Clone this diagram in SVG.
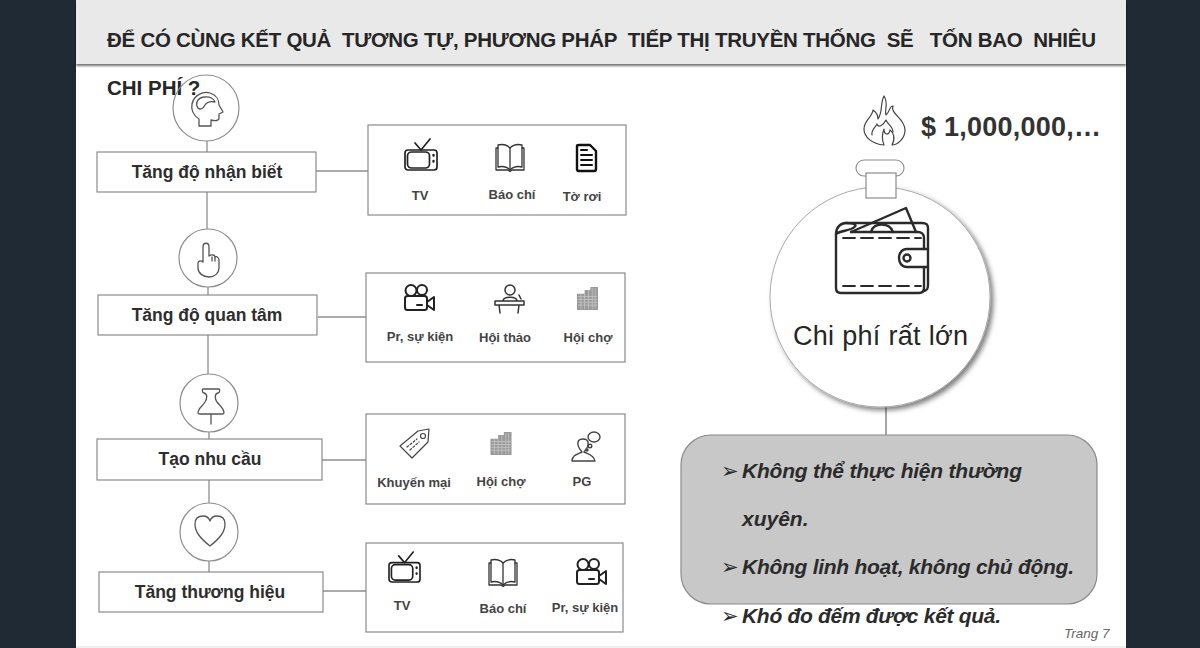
<svg xmlns="http://www.w3.org/2000/svg" width="1200" height="648" viewBox="0 0 1200 648">
<style>
text{font-family:"Liberation Sans",Arial,sans-serif;fill:#262626}
.title{font-size:20.5px;font-weight:700;white-space:pre}
.lbl{font-size:17.5px;font-weight:700;text-anchor:middle;fill:#2e2e2e}
.sm{font-size:13px;font-weight:700;text-anchor:middle;fill:#444}
.blt{font-size:21px;font-weight:700;font-style:italic;fill:#2b2b2b}
.arr{font-family:"DejaVu Sans",sans-serif;font-size:21px;font-weight:400;font-style:normal;fill:#2b2b2b}
.box{fill:#fff;stroke:#808080;stroke-width:1.1}
.ring{fill:none;stroke:#8e8e8e;stroke-width:1.2}
.con{fill:none;stroke:#8e8e8e;stroke-width:1.3}
.ic{fill:none;stroke:#222;stroke-width:1.7;stroke-linejoin:round;stroke-linecap:round}
.ir{fill:none;stroke:#555;stroke-width:1.3;stroke-linejoin:round;stroke-linecap:round}
.ig{fill:none;stroke:#444;stroke-width:1.4;stroke-linejoin:round;stroke-linecap:round}
</style>
<defs>
<filter id="hs" x="-2%" y="-20%" width="104%" height="150%"><feDropShadow dx="0" dy="2" stdDeviation="1.2" flood-color="#000" flood-opacity=".55"/></filter>
<filter id="cs" x="-10%" y="-10%" width="125%" height="125%"><feDropShadow dx="3" dy="3" stdDeviation="2.5" flood-color="#000" flood-opacity=".5"/></filter>
<symbol id="tv" viewBox="0 0 34 32" overflow="visible"><g class="ic"><rect x="1" y="11" width="32" height="20" rx="3"/><rect x="3.5" y="13" width="22" height="16" rx="4"/><path d="M11 4l6 7 9-11"/><path d="M29.5 16v.5M29.5 22v.5" stroke-width="2.4"/></g></symbol>
<symbol id="book" viewBox="0 0 30 29" overflow="visible"><g class="ic" style="stroke-width:1.3;stroke:#333"><path d="M15 5C12 2 7 1 3 2V24C7 23 12 24 15 27C18 24 23 23 27 24V2C23 1 18 2 15 5Z"/><path d="M15 5V27"/><path d="M3 5H1V27H13L15 28.500 17 27H29V5H27"/></g></symbol>
<symbol id="cam" viewBox="0 0 31 27" overflow="visible"><g class="ic" style="stroke-width:2"><circle cx="7" cy="6.500" r="5.500"/><circle cx="18" cy="6" r="5"/><rect x="1" y="12" width="22" height="14" rx="2.500"/><path d="M23 18l7-5v13l-7-5z"/><path d="M13 21h5"/></g></symbol>
<symbol id="bld" viewBox="0 0 22 24" overflow="visible"><path d="M0 7H8V3H14V0H22V24H0Z" fill="#9a9a9a"/><path d="M1 10H21M1 13H21M1 16H21M1 19H21M4 7V23M8 7V23M12 3V23M16 1V23M19 1V23" stroke="#c8c8c8" stroke-width=".8" fill="none"/></symbol>
</defs>
<rect width="1200" height="648" fill="#1f2a35"/>
<rect x="76" width="1050" height="648" fill="#fff"/>
<rect x="76" y="646" width="1050" height="2" fill="#efefef"/>
<rect id="header" x="76" width="1050" height="64" fill="#e9e9e9" filter="url(#hs)"/>
<text class="title" x="107" y="47" textLength="989" lengthAdjust="spacing">ĐỂ CÓ CÙNG KẾT QUẢ  TƯƠNG TỰ, PHƯƠNG PHÁP  TIẾP THỊ TRUYỀN THỐNG  SẼ   TỐN BAO  NHIÊU</text>
<text class="title" x="107" y="95">CHI PHÍ ?</text>

<g id="connectors" class="con">
<path d="M207 141V152M207 192V229M208 287V295M208 335V374M209 432V439M209 480V503M209 561V572"/>
<path d="M316 171H368M318 317H366M322 460H366M323 591H366"/>
<path d="M886 405V436" stroke="#777"/>
</g>

<g id="step1"><circle class="ring" cx="206" cy="108" r="33"/>
<path class="ir" d="M199 126V119C193 115 191 109 192 104C194 95 203 91 210 93C217 95 219 101 219 105L223 112L219 114V118C219 121 215 121 211 120V126Z"/>
<path class="ir" d="M198 108C195 104 197 98 204 97C210 96 214 99 215 102C211 101 207 102 205 105C203 109 200 110 198 108Z"/>
<rect class="box" x="97" y="152" width="219" height="40"/><text class="lbl" x="207" y="178">Tăng độ nhận biết</text></g>
<g id="panel1"><rect class="box" x="368" y="125" width="258" height="90"/>
<use href="#tv" x="404" y="139" width="34" height="32"/><use href="#book" x="495" y="143" width="30" height="29"/>
<path class="ic" style="stroke-width:2.400;stroke:#111" d="M577 146C577 145 578 145 579 145H590L596 151V169C596 171 595 171 594 171H579C578 171 577 171 577 169Z"/>
<path class="ic" style="stroke-width:2;stroke:#111" d="M581 150H587M581 155H592M581 160H592M581 165H592"/>
<text class="sm" x="420" y="200">TV</text><text class="sm" x="512" y="199">Báo chí</text><text class="sm" x="582" y="201">Tờ rơi</text></g>

<g id="step2"><circle class="ring" cx="208" cy="258" r="29"/>
<path class="ir" d="M203 262V247C203 242 209 242 209 247V256C212 254 215 255 215 257C217 256 219 258 219 260V268C219 273 215 277 209 277C203 277 198 273 198 268V263C198 261 201 260 203 262Z"/>
<path class="ir" d="M212 257V261M215 257V261"/>
<rect class="box" x="98" y="295" width="219" height="40"/><text class="lbl" x="207" y="321">Tăng độ quan tâm</text></g>
<g id="panel2"><rect class="box" x="366" y="273" width="259" height="89"/>
<use href="#cam" x="404" y="284" width="31" height="27"/>
<g class="ic" style="stroke-width:1.500;stroke:#333"><circle cx="510" cy="290" r="5"/><path d="M503 301C503 296 517 296 517 301M495 301H524V305H495ZM499 305L500 313M519 305L518 313M519 295L521 299"/></g>
<use href="#bld" x="577" y="287" width="21" height="23"/>
<text class="sm" x="420" y="341">Pr, sự kiện</text><text class="sm" x="505" y="342">Hội thảo</text><text class="sm" x="588" y="342">Hội chợ</text></g>

<g id="step3"><circle class="ring" cx="209" cy="403" r="29"/>
<path class="ir" d="M203 389H219C220 389 220 393 218 393C214 394 215 399 217 402C220 406 224 408 224 413C224 414 223 414 222 414H200C199 414 198 414 198 413C198 408 203 406 205 402C207 399 208 394 204 393C202 393 202 389 203 389ZM211 414V424"/>
<rect class="box" x="97" y="439" width="225" height="41"/><text class="lbl" x="210" y="465">Tạo nhu cầu</text></g>
<g id="panel3"><rect class="box" x="366" y="414" width="259" height="90"/>
<g class="ig" style="stroke-width:1.200"><path d="M400 446L418 431L429 429L428 442L412 458Z"/><circle cx="423" cy="436" r="2.500"/><path d="M407 447L417 439M410 450L419 442" stroke-dasharray="2 2"/></g>
<use href="#bld" x="490" y="432" width="22" height="23"/>
<g class="ig"><path d="M572 461C572 455 578 454 582 452C580 449 577 447 578 442C579 438 587 438 588 442C589 447 586 449 584 452C588 454 594 455 595 461Z"/><ellipse cx="594" cy="437" rx="6" ry="5"/><circle cx="590" cy="446" r="1.800"/><circle cx="587" cy="450" r="1"/></g>
<text class="sm" x="414" y="487">Khuyến mại</text><text class="sm" x="501" y="486">Hội chợ</text><text class="sm" x="582" y="486">PG</text></g>

<g id="step4"><circle class="ring" cx="209" cy="532" r="29"/>
<path class="ir" d="M210 546C200 538 195 532 195 524C195 518 199 516 203 516C206 516 209 518 210 521C211 518 214 516 217 516C221 516 225 518 225 524C225 532 220 538 210 546Z"/>
<rect class="box" x="99" y="572" width="224" height="40"/><text class="lbl" x="210" y="598">Tăng thương hiệu</text></g>
<g id="panel4"><rect class="box" x="366" y="543" width="257" height="89"/>
<use href="#tv" x="388" y="552" width="33" height="31"/><use href="#book" x="488" y="558" width="30" height="29"/><use href="#cam" x="576" y="558" width="31" height="27"/>
<text class="sm" x="402" y="610">TV</text><text class="sm" x="503" y="613">Báo chí</text><text class="sm" x="585" y="612">Pr, sự kiện</text></g>

<g id="cost">
<g class="ig" style="stroke-width:1.200"><path d="M884 96C889 104 884 110 886 115C890 112 889 106 893 106C890 114 905 118 905 130C905 139 897 145 892 145C896 138 893 132 890 130C889 136 884 135 884 129C882 134 882 140 884 145C872 144 864 137 864 129C864 120 872 118 873 110C876 112 878 115 878 119C883 112 880 103 884 96Z"/><path d="M872 135C871 130 875 128 877 124C878 128 883 126 886 120C887 124 893 126 893 132"/></g>
<text x="921" y="136" font-size="27" font-weight="700" style="fill:#333" textLength="180" lengthAdjust="spacing">$ 1,000,000,…</text>
<rect x="856" y="160" width="48" height="16" rx="8" fill="#fff" stroke="#8c8c8c" stroke-width="1.1"/>
<circle cx="880" cy="297" r="110" fill="#fff" stroke="#aaa" stroke-width="1" filter="url(#cs)"/>
<rect x="866" y="173" width="30" height="25" fill="#fff" stroke="#808080" stroke-width="1.1"/>
<g class="ic" style="stroke-width:2.400;stroke:#2a2a2a">
<path d="M851 232L906 208L916 232"/><path d="M871 232C873 222 890 222 893 232"/>
<path d="M846 223H922C926 223 928 224 928 228V249M928 267V285C928 290 926 291 923 291"/>
<path d="M836 234C836 227 841 223 846 223C854 223 860 225 851 229C846 231 840 231 836 234ZM851 232H918C921 232 924 234 924 238V249M924 267V288C924 291 922 293 919 293H841C838 293 836 291 836 288V234"/>
<path d="M843 238H921M843 286H921" style="stroke-width:1.800" stroke-dasharray="12 6"/>
<path d="M928 249H907C902 249 899 253 899 258C899 263 902 267 907 267H928Z"/><circle cx="907" cy="258" r="3.500"/></g>
<text x="793" y="345" font-size="27" textLength="175" lengthAdjust="spacing">Chi phí rất lớn</text>
</g>

<g id="notes">
<rect x="681" y="435" width="416" height="169" rx="30" fill="#c8c8c8" stroke="#8a8a8a" stroke-width="1.2"/>
<text class="arr" x="721" y="478">➢</text><text class="blt" x="742" y="478" textLength="280" lengthAdjust="spacing">Không thể thực hiện thường</text>
<text class="blt" x="742" y="526">xuyên.</text>
<text class="arr" x="721" y="574">➢</text><text class="blt" x="742" y="574" textLength="332" lengthAdjust="spacing">Không linh hoạt, không chủ động.</text>
<text class="arr" x="721" y="623">➢</text><text class="blt" x="742" y="623" textLength="259" lengthAdjust="spacing">Khó đo đếm được kết quả.</text>
</g>
<text x="1064" y="638" font-size="13.5" font-style="italic" style="fill:#666">Trang 7</text>
</svg>
